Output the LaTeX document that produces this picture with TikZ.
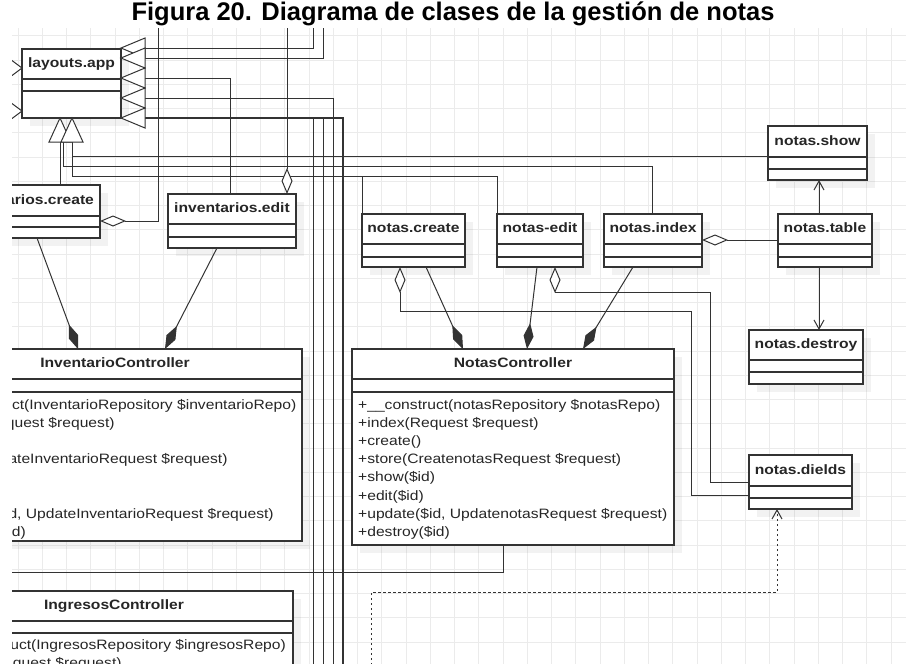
\documentclass[tikz,border=0pt]{standalone}
\usepackage{fontspec}
\setmainfont{Liberation Sans}
\newfontfamily\dgfont[FakeStretch=1.15]{Liberation Sans}
\usetikzlibrary{arrows.meta,calc}
\definecolor{gridc}{HTML}{EBEBEB}
\definecolor{ln}{HTML}{333333}
\definecolor{txt}{HTML}{262626}
\tikzset{
  titletext/.style={font=\bfseries\fontsize{25.5}{30}\selectfont, text=black, inner sep=0pt},
  gridline/.style={draw=gridc, line width=1pt},
  cls/.style={draw=ln, line width=1.2pt, fill=white, rectangle, inner sep=0pt, outer sep=0pt, anchor=north west},
  sepline/.style={draw=ln, line width=1.2pt},
  nm/.style={font=\dgfont\fontsize{13.6}{16}\selectfont\bfseries, text=txt, inner sep=0pt, text height=10pt, text depth=3pt},
  mt/.style={font=\dgfont\fontsize{13.6}{16}\selectfont, text=txt, inner sep=0pt, anchor=west, text height=10pt, text depth=3pt},
  con/.style={draw=ln, line width=1pt},
  comp/.style={con, -{Diamond[length=26pt,width=10pt,fill=ln]}},
  agg/.style={con, {Diamond[length=26pt,width=11pt,fill=white]}-},
  navarrow/.style={con, -{Straight Barb[length=9pt,width=10pt]}},
  dep/.style={con, dash pattern=on 2.5pt off 2.5pt, -{Straight Barb[length=9pt,width=10pt]}},
  inhtri/.style={draw=ln, line width=1pt, fill=white, line join=miter},
  shd/.style={fill=black, opacity=0.05},
}
% #1 name, #2 x1, #3 y1, #4 x2, #5 y2, #6 first separator, #7 second separator, #8 title
\newcommand\umlbox[8]{%
  \node[cls, minimum width={(#4)-(#2)}, minimum height={(#5)-(#3)}] (#1) at (#2,#3) {};
  \draw[sepline] (#2,#6) -- (#4,#6) (#2,#7) -- (#4,#7);
  \node[nm] (#1-t) at ({((#2)+(#4))/2},{((#3)+(#6))/2}) {#8};
}
\newcommand\umlshadow[4]{%
  \fill[shd] ({(#1)+8},{(#2)+8}) rectangle ({(#3)+8},{(#4)+8});
}
\begin{document}
\begin{tikzpicture}[x=1pt,y=-1pt]
\useasboundingbox (0,0) rectangle (906,664);
\node[titletext] (title) at (453,14) {Figura 20. Diagrama de clases de la gestión de notas};
\begin{scope}
\clip (12,28) rectangle (906,664);
% grid
\foreach \i in {0,...,37} \draw[gridline] ({18.05+24.25*\i},28) -- ({18.05+24.25*\i},664);
\foreach \j in {0,...,26} \draw[gridline] (12,{35.75+24.25*\j}) -- (906,{35.75+24.25*\j});
% shadows
\umlshadow{22}{49}{121}{118}
\umlshadow{-46}{185}{100}{238}
\umlshadow{168}{194}{296}{248}
\umlshadow{362}{214}{465}{267}
\umlshadow{497}{214}{583}{267}
\umlshadow{604}{214}{702}{267}
\umlshadow{778}{214}{872}{267}
\umlshadow{768}{126}{867}{180}
\umlshadow{749}{330}{863}{384}
\umlshadow{749}{455}{852}{509}
\umlshadow{352}{349}{674}{545}
\umlshadow{-72}{349}{302}{541}
\umlshadow{-65}{591}{293}{700}
% connectors from layouts.app (right side)
\draw[con] (145,48) -| (313,20);
\draw[con] (145,58) -| (323,20);
\draw[con] (145,78) -| (230,194);
\draw[con] (145,98) -| (333,680);
\draw[con, line width=1.6pt] (145,118) -| (343,680);
\draw[con] (313,118) -- (313,680);
\draw[con] (323,118) -- (323,680);
% connectors from layouts.app (bottom)
\draw[con] (60,142) -- (60,185);
\draw[con] (63,142) |- (652,166) -- (652,214);
\draw[con] (72,142) |- (362,176) -- (362,214);
\draw[con] (362,176) -| (497,214);
\draw[con] (72,156) -- (768,156);
% aggregations
\draw[agg] (100,221) -| (158,20);
\draw[agg] (287,194) -- (287,20);
\draw[agg] (702,240) -- (778,240);
\draw[agg] (400,267) |- (691,311) |- (749,495);
\draw[agg] (555,267) |- (710,292) |- (749,482);
% compositions
\draw[comp] (37,238) -- (78,349);
\draw[comp] (217,248) -- (165,349);
\draw[comp] (426,267) -- (463,349);
\draw[comp] (537,267) -- (527,349);
\draw[comp] (633,267) -- (583,349);
% navigable associations
\draw[navarrow] (819,214) -- (819,180);
\draw[navarrow] (819,267) -- (819,330);
% dependency
\draw[dep] (371,680) |- (777,592) -- (777,509);
% bottom connector
\draw[con] (503,545) |- (0,572);
% classes
\umlbox{layapp}{22}{49}{121}{118}{79}{91}{layouts.app}
\umlbox{icreate}{-46}{185}{100}{238}{216}{227}{inventarios.create}
\umlbox{iedit}{168}{194}{296}{248}{224}{237}{inventarios.edit}
\umlbox{ncreate}{362}{214}{465}{267}{244}{257}{notas.create}
\umlbox{nedit}{497}{214}{583}{267}{244}{257}{notas-edit}
\umlbox{nindex}{604}{214}{702}{267}{244}{257}{notas.index}
\umlbox{ntable}{778}{214}{872}{267}{244}{257}{notas.table}
\umlbox{nshow}{768}{126}{867}{180}{157}{169}{notas.show}
\umlbox{ndestroy}{749}{330}{863}{384}{360}{372}{notas.destroy}
\umlbox{ndields}{749}{455}{852}{509}{486}{498}{notas.dields}
\umlbox{nctrl}{352}{349}{674}{545}{379}{392}{NotasController}
\umlbox{ictrl}{-72}{349}{302}{541}{379}{392}{InventarioController}
\umlbox{gctrl}{-65}{591}{293}{700}{621}{633}{IngresosController}
% methods NotasController
\node[mt] (nm1) at (358,406.0) {+\_\_construct(notasRepository \$notasRepo)};
\node[mt] (nm2) at (358,424.1) {+index(Request \$request)};
\node[mt] (nm3) at (358,442.2) {+create()};
\node[mt] (nm4) at (358,460.3) {+store(CreatenotasRequest \$request)};
\node[mt] (nm5) at (358,478.4) {+show(\$id)};
\node[mt] (nm6) at (358,496.5) {+edit(\$id)};
\node[mt] (nm7) at (358,514.6) {+update(\$id, UpdatenotasRequest \$request)};
\node[mt] (nm8) at (358,532.7) {+destroy(\$id)};
% methods InventarioController
\node[mt] (im1) at (-66,406.0) {+\_\_construct(InventarioRepository \$inventarioRepo)};
\node[mt] (im2) at (-66,424.1) {+index(Request \$request)};
\node[mt] (im3) at (-66,442.2) {+create()};
\node[mt] (im4) at (-66,460.3) {+store(CreateInventarioRequest \$request)};
\node[mt] (im5) at (-66,478.4) {+show(\$id)};
\node[mt] (im6) at (-66,496.5) {+edit(\$id)};
\node[mt] (im7) at (-66,514.6) {+update(\$id, UpdateInventarioRequest \$request)};
\node[mt] (im8) at (-66,532.7) {+destroy(\$id)};
% methods IngresosController
\node[mt] (gm1) at (-59,646) {+\_\_construct(IngresosRepository \$ingresosRepo)};
\node[mt] (gm2) at (-59,664.1) {+index(Request \$request)};
% inheritance triangles
\draw[inhtri] (22,68) -- (-2,50) -- (-2,86) -- cycle;
\draw[inhtri] (22,111) -- (-2,93) -- (-2,129) -- cycle;
\foreach \ty in {48,58,78,98,118}
  \draw[inhtri] (121,\ty) -- (145,{\ty-10}) -- (145,{\ty+10}) -- cycle;
\draw[inhtri] (60,118) -- (49,142) -- (71,142) -- cycle;
\draw[inhtri] (72,118) -- (61,142) -- (83,142) -- cycle;
\end{scope}
\end{tikzpicture}
\end{document}
